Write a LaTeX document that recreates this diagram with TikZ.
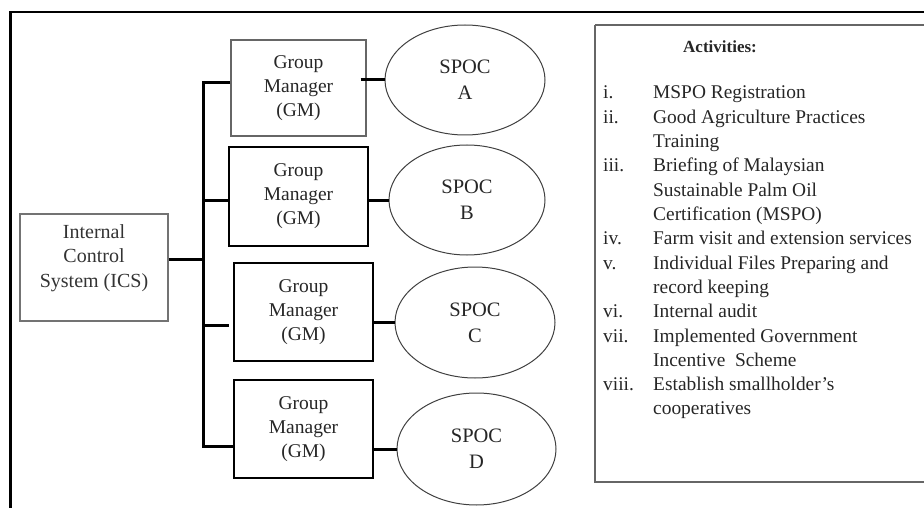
\documentclass[tikz,border=0pt]{standalone}
\usepackage{fontspec}
\setmainfont{Liberation Serif}
\usetikzlibrary{shapes.geometric}
\begin{document}
\begin{tikzpicture}[x=1pt,y=-1pt,
  gmbox/.style={draw=black, line width=1.6pt, inner sep=0pt, align=center,
    text=black!85, font=\fontsize{19.5}{24}\selectfont},
  graybox/.style={draw=black!55, line width=1.4pt, inner sep=0pt},
  spoc/.style={ellipse, draw=black!75, line width=1pt, inner sep=0pt, align=center,
    text=black!85, font=\fontsize{20.5}{26}\selectfont},
  conn/.style={draw=black, line width=3pt, line join=miter},
  lst/.style={anchor=base west, inner sep=0pt, text=black!85, font=\fontsize{19.4}{24}\selectfont},
]
\useasboundingbox (0,0) rectangle (924,508);
\clip (0,0) rectangle (924,508);
% outer frame (partly cut off)
\draw[line width=2.5pt, black] (10.5,530) -- (10.5,12) -- (940,12);
% activities frame
\draw[line width=1.5pt, black!60] (595,25) -- (595,482) -- (940,482) (595,25) -- (940,25);

% ICS
\node[graybox, minimum width=148pt, minimum height=107pt] (ics) at (94,267.5) {};
\node[align=center, inner sep=0pt, text=black!80, font=\fontsize{20}{24.5}\selectfont] (icstext) at (94,258) {Internal\\Control\\System (ICS)};

% Group managers
\node[gmbox, draw=black!60, line width=1.4pt, minimum width=135pt, minimum height=96pt] (gmA) at (298.5,88) {Group\\Manager\\(GM)};
\node[gmbox, minimum width=139pt, minimum height=99pt] (gmB) at (298.5,196.5) {Group\\Manager\\(GM)};
\node[gmbox, minimum width=139pt, minimum height=98pt] (gmC) at (303.5,312) {Group\\Manager\\(GM)};
\node[gmbox, minimum width=139pt, minimum height=98pt] (gmD) at (303.5,429) {Group\\Manager\\(GM)};

% SPOCs
\node[spoc, minimum width=160pt, minimum height=110pt] (spA) at (465,80) {SPOC\\A};
\node[spoc, minimum width=156pt, minimum height=110pt] (spB) at (467,200) {SPOC\\B};
\node[spoc, minimum width=160pt, minimum height=111pt] (spC) at (475,322.5) {SPOC\\C};
\node[spoc, minimum width=159pt, minimum height=112pt] (spD) at (476.5,449) {SPOC\\D};

% bus
\coordinate (jA) at (203,83);
\coordinate (jB) at (203,200);
\coordinate (jI) at (203,259);
\coordinate (jC) at (203,325);
\coordinate (jD) at (203,446);
\draw[conn] (jA -| gmA.west) -- (jA) -- (jD) -- (jD -| gmD.west);
\draw[conn] (jB) -- (jB -| gmB.west);
\draw[conn] (jC) -- ([xshift=-4pt]jC -| gmC.west);
\draw[conn] (jI -| ics.east) -- (jI);
% GM to SPOC
\draw[conn] ([xshift=-6pt]spA.west -| gmA.east) -- (spA.west);
\draw[conn] (spB.west -| gmB.east) -- (spB.west);
\draw[conn] (spC.west -| gmC.east) -- (spC.west);
\draw[conn] (spD.west -| gmD.east) -- (spD.west);

% activities text
\node[anchor=base west, inner sep=0pt, text=black!85, font=\fontsize{17}{20}\selectfont\bfseries] (acth) at (683,53) {Activities:};
\node[lst] (n1) at (603,99) {i.};
\node[lst] (n2) at (603,123.3) {ii.};
\node[lst] (n3) at (603,171.9) {iii.};
\node[lst] (n4) at (603,244.8) {iv.};
\node[lst] (n5) at (603,269.1) {v.};
\node[lst] (n6) at (603,317.7) {vi.};
\node[lst] (n7) at (603,342) {vii.};
\node[lst] (n8) at (603,390.6) {viii.};
\node[lst] (t1) at (653,99) {MSPO Registration};
\node[lst] (t2) at (653,123.3) {Good Agriculture Practices};
\node[lst] (t3) at (653,147.6) {Training};
\node[lst] (t4) at (653,171.9) {Briefing of Malaysian};
\node[lst] (t5) at (653,196.2) {Sustainable Palm Oil};
\node[lst] (t6) at (653,220.5) {Certification (MSPO)};
\node[lst] (t7) at (653,244.8) {Farm visit and extension services};
\node[lst] (t8) at (653,269.1) {Individual Files Preparing and};
\node[lst] (t9) at (653,293.4) {record keeping};
\node[lst] (t10) at (653,317.7) {Internal audit};
\node[lst] (t11) at (653,342) {Implemented Government};
\node[lst] (t12) at (653,366.3) {Incentive\ \ Scheme};
\node[lst] (t13) at (653,390.6) {Establish smallholder’s};
\node[lst] (t14) at (653,414.9) {cooperatives};
\end{tikzpicture}
\end{document}
